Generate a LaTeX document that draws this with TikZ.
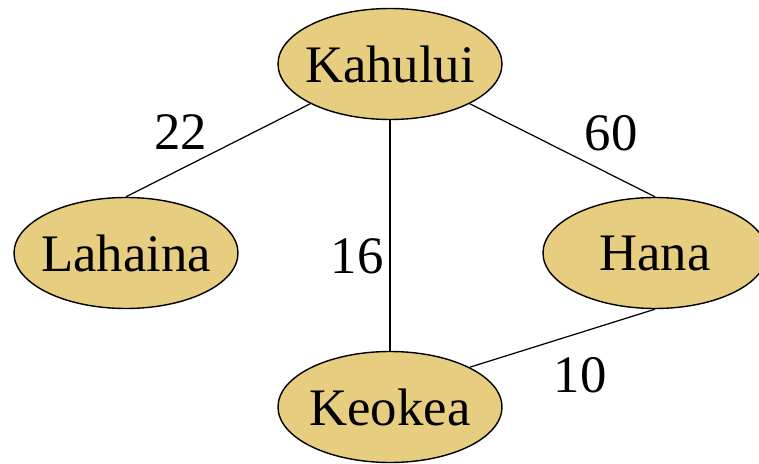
\documentclass[tikz,border=0pt]{standalone}
\usepackage{fontspec}
\setmainfont{Liberation Serif}
\usepackage{tikz}
\usetikzlibrary{shapes.geometric}
\definecolor{townfill}{RGB}{230,205,128}
\tikzset{
  town/.style={
    ellipse,
    fill=townfill,
    draw=black, line width=0.8pt,
    minimum width=4.48cm,
    minimum height=2.22cm,
    inner xsep=-0.4cm, inner ysep=0pt,
    font=\fontsize{30}{36}\selectfont},
  road/.style={draw, line width=0.7pt},
  weight/.style={font=\fontsize{30}{36}\selectfont},
}
\begin{document}
\begin{tikzpicture}
\useasboundingbox (0,0) rectangle (15.18,9.26);
\node[town] (kahului) at (7.80,7.98) {Kahului};
\node[town] (lahaina) at (2.52,4.20) {Lahaina};
\node[town] (hana) at (13.10,4.20) {Hana};
\node[town] (keokea) at (7.80,1.12) {Keokea};
% roads with distances
\foreach \a/\b/\w/\x/\y in {kahului.south west/lahaina.north/22/3.61/6.62,
  kahului.south east/hana.north/60/12.22/6.60,
  kahului.south/keokea.north/16/7.14/4.14,
  hana.south/keokea.north east/10/11.60/1.76}{
\draw[road] (\a) -- (\b);
\node[weight] (w\w) at (\x,\y) {\w};
  }
\end{tikzpicture}
\end{document}
